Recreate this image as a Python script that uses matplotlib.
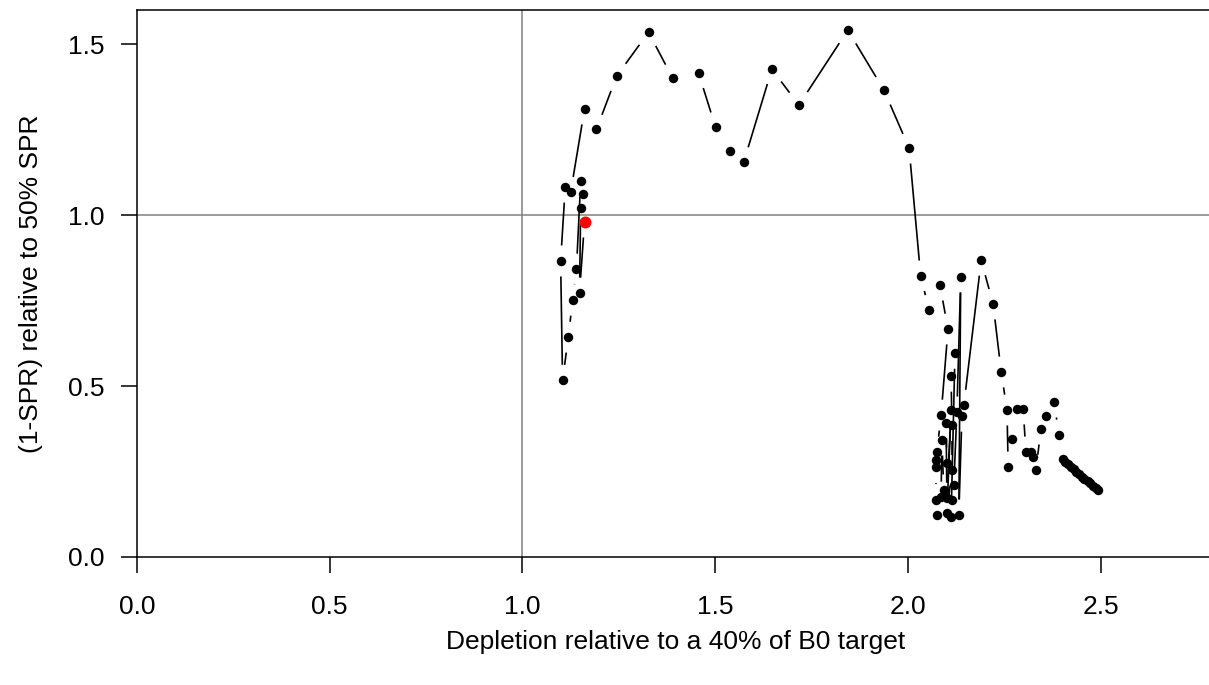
import numpy as np
import matplotlib
matplotlib.use("Agg")
import matplotlib.pyplot as plt
from matplotlib.collections import LineCollection

plt.rcParams['font.family'] = ['Liberation Sans', 'DejaVu Sans']

# depletion relative to B40 target, in time order (last = current year)
depletion = [2.493, 2.487, 2.480, 2.472, 2.466, 2.458, 2.451, 2.444, 2.437, 2.430,
             2.422, 2.415, 2.408, 2.401,
             2.392, 2.379, 2.358, 2.345, 2.332, 2.325, 2.319, 2.306, 2.299, 2.283,
             2.270, 2.260, 2.257, 2.242, 2.221, 2.190,
             2.145, 2.140, 2.132, 2.137, 2.127, 2.119, 2.114, 2.112, 2.122, 2.112,
             2.114, 2.114, 2.101, 2.112, 2.101, 2.099, 2.101, 2.093, 2.088, 2.086,
             2.075, 2.073, 2.073, 2.073, 2.075, 2.086, 2.104, 2.083, 2.055, 2.033,
             2.003, 1.938, 1.844, 1.717, 1.647, 1.574, 1.538, 1.501, 1.457, 1.390,
             1.327, 1.244, 1.192, 1.161,
             1.125, 1.111, 1.099, 1.104, 1.119, 1.130, 1.140, 1.151, 1.156, 1.151,
             1.148, 1.161]

# (1-SPR) relative to (1-SPR50%)
spr_ratio = [0.195, 0.201, 0.208, 0.215, 0.221, 0.229, 0.235, 0.243, 0.249, 0.257,
             0.263, 0.271, 0.277, 0.286,
             0.357, 0.453, 0.412, 0.374, 0.254, 0.292, 0.307, 0.307, 0.433, 0.433,
             0.345, 0.263, 0.430, 0.541, 0.740, 0.868,
             0.444, 0.412, 0.123, 0.819, 0.424, 0.211, 0.167, 0.117, 0.596, 0.529,
             0.386, 0.254, 0.129, 0.430, 0.172, 0.392, 0.275, 0.196, 0.342, 0.175,
             0.123, 0.167, 0.263, 0.284, 0.307, 0.415, 0.667, 0.795, 0.722, 0.822,
             1.196, 1.365, 1.541, 1.322, 1.427, 1.155, 1.187, 1.257, 1.415, 1.400,
             1.535, 1.406, 1.251, 1.310,
             1.067, 1.082, 0.866, 0.517, 0.643, 0.751, 0.842, 1.099, 1.061, 1.020,
             0.772, 0.980]

x_ticks = [0.0, 0.5, 1.0, 1.5, 2.0, 2.5]
y_ticks = [0.0, 0.5, 1.0, 1.5]

fig = plt.figure(figsize=(12.09, 6.85), dpi=100)
ax = fig.add_axes([137 / 1209, 1 - 557 / 685, 1077 / 1209, 547 / 685])
ax.set_xlim(0, 2.794)
ax.set_ylim(0, 1.6)

ax.axvline(1.0, color='#808080', lw=1.1, zorder=1)
ax.axhline(1.0, color='#808080', lw=1.1, zorder=1)

# R type="b": segments with a gap around each point
pts = ax.transData.transform(np.column_stack([depletion, spr_ratio]))
gap = 15.5
segs = []
for p0, p1 in zip(pts[:-1], pts[1:]):
    d = p1 - p0
    L = np.hypot(d[0], d[1])
    if L <= 2 * gap:
        continue
    u = d / L
    a = ax.transData.inverted().transform(p0 + u * gap)
    b = ax.transData.inverted().transform(p1 - u * gap)
    segs.append([a, b])
ax.add_collection(LineCollection(segs, colors='black', linewidths=1.2, zorder=2))

ax.plot(depletion[:-1], spr_ratio[:-1], 'o', color='black', ms=6.8, mec='none', zorder=3)
ax.plot(depletion[-1], spr_ratio[-1], 'o', color='red', ms=8.6, mec='none', zorder=4)

ax.set_xticks(x_ticks)
ax.set_xticklabels([f"{t:.1f}" for t in x_ticks])
ax.set_yticks(y_ticks)
ax.set_yticklabels([f"{t:.1f}" for t in y_ticks])
ax.tick_params(axis='both', length=11.5, width=1.1, labelsize=19)
ax.tick_params(axis='x', pad=16)
ax.tick_params(axis='y', pad=12)
for s in ['left', 'bottom', 'top']:
    ax.spines[s].set_linewidth(1.1)
ax.spines['right'].set_visible(False)

ax.set_xlabel("Depletion relative to a 40% of B0 target", fontsize=19, labelpad=8)
ax.set_ylabel("(1-SPR) relative to 50% SPR", fontsize=19, labelpad=18)

fig.savefig("out.png", dpi=100)
